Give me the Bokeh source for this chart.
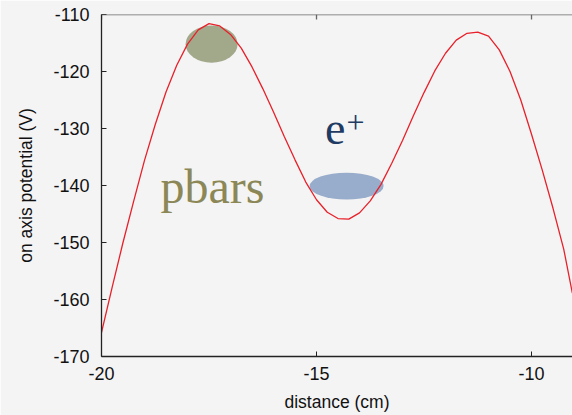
from bokeh.plotting import figure
from bokeh.models import Range1d, FixedTicker, Span
from bokeh.core.properties import value
from bokeh.embed import file_html
from bokeh.resources import INLINE

# on-axis potential
distance_cm = [-20.00, -19.75, -19.50, -19.25, -19.00, -18.75, -18.50, -18.25,
               -18.00, -17.75, -17.50, -17.25, -17.00, -16.75, -16.50, -16.25,
               -16.00, -15.75, -15.50, -15.25, -15.00, -14.75, -14.50, -14.25,
               -14.00, -13.75, -13.50, -13.25, -13.00, -12.75, -12.50, -12.25,
               -12.00, -11.75, -11.50, -11.25, -11.00, -10.75, -10.50, -10.25,
               -10.00, -9.75, -9.50, -9.25, -9.05]
potential_V = [-165.8, -157.8, -150.0, -142.7, -135.6, -129.3, -123.6, -118.9,
               -115.2, -112.7, -111.6, -112.0, -113.5, -115.9, -119.2, -123.0,
               -127.1, -131.4, -135.5, -139.4, -142.5, -144.7, -145.8, -145.9,
               -144.8, -142.7, -139.8, -136.1, -132.1, -127.8, -123.7, -119.9,
               -116.8, -114.5, -113.3, -113.1, -113.8, -116.2, -120.0, -125.0,
               -131.0, -137.3, -144.0, -151.2, -158.9]

x_ticks = [-20, -15, -10]
y_ticks = [-170, -160, -150, -140, -130, -120, -110]
x_labels = ["-20", "-15", "-10"]
y_labels = ["-170", "-160", "-150", "-140", "-130", "-120", "-110"]

# particle clouds: centre x, centre V, width (cm), height (V)
clouds_x = [-17.44, -14.30]
clouds_y = [-115.2, -140.1]
clouds_w = [1.21, 1.72]
clouds_h = [6.5, 4.7]
clouds_color = ["#a2a88a", "#98accb"]

bg = "#f4f4f4"
x_lo, x_hi = -20, -9.047
y_lo, y_hi = -170, -110

p = figure(width=572, height=415, output_backend="svg", toolbar_location=None,
           x_range=Range1d(x_lo, x_hi), y_range=Range1d(y_lo, y_hi),
           background_fill_color=bg, border_fill_color=bg,
           min_border_left=101, min_border_bottom=59, min_border_top=14,
           min_border_right=0)
p.outline_line_color = None
p.xgrid.visible = False
p.ygrid.visible = False

for ax in (p.xaxis[0], p.yaxis[0]):
    ax.major_tick_in = 5
    ax.major_tick_out = 0
    ax.minor_tick_line_color = None
    ax.axis_line_color = "#222222"
    ax.axis_line_width = 1.3
    ax.major_tick_line_color = "#222222"
    ax.major_label_text_font = "Liberation Sans"
    ax.major_label_text_font_size = "18px"
    ax.major_label_text_color = "#111111"
    ax.axis_label_text_font = "Liberation Sans"
    ax.axis_label_text_font_size = "17.5px"
    ax.axis_label_text_font_style = "normal"
    ax.axis_label_text_color = "#111111"

p.xaxis[0].ticker = FixedTicker(ticks=x_ticks)
p.yaxis[0].ticker = FixedTicker(ticks=y_ticks)
p.xaxis[0].major_label_overrides = dict(zip(x_ticks, x_labels))
p.yaxis[0].major_label_overrides = dict(zip(y_ticks, y_labels))
p.xaxis[0].axis_label = "distance (cm)"
p.yaxis[0].axis_label = "on axis potential (V)"
p.xaxis[0].major_label_standoff = 10
p.xaxis[0].axis_label_standoff = 9
p.yaxis[0].major_label_standoff = 12
p.yaxis[0].axis_label_standoff = 14

# top frame line with inward ticks
p.add_layout(Span(location=y_hi, dimension="width", line_color="#666666", line_width=1.3))
tick_len_V = 5 * (y_hi - y_lo) / 342.0
p.segment(x0=x_ticks, y0=[y_hi] * len(x_ticks), x1=x_ticks,
          y1=[y_hi - tick_len_V] * len(x_ticks), line_color="#666666", line_width=1.3)

p.ellipse(x=clouds_x, y=clouds_y, width=clouds_w, height=clouds_h,
          fill_color=clouds_color, line_color=None)

p.line(distance_cm, potential_V, line_color="#e8202a", line_width=1.3)

p.text(x=[-18.63], y=[-140.2], text=["pbars"], text_font=value("Liberation Serif"),
       text_font_size="48px", text_color="#8c8756", text_baseline="alphabetic",
       text_align="left")
p.text(x=[-14.80], y=[-130.0], text=["e"], text_font=value("Liberation Serif"),
       text_font_size="46px", text_color="#1f3b63", text_baseline="alphabetic",
       text_align="left")
p.text(x=[-14.09], y=[-129.0], text=["+"], text_font=value("Liberation Serif"),
       text_font_size="32px", text_color="#1f3b63", text_baseline="middle",
       text_align="center")

open("out.html", "w").write(file_html(p, INLINE))
